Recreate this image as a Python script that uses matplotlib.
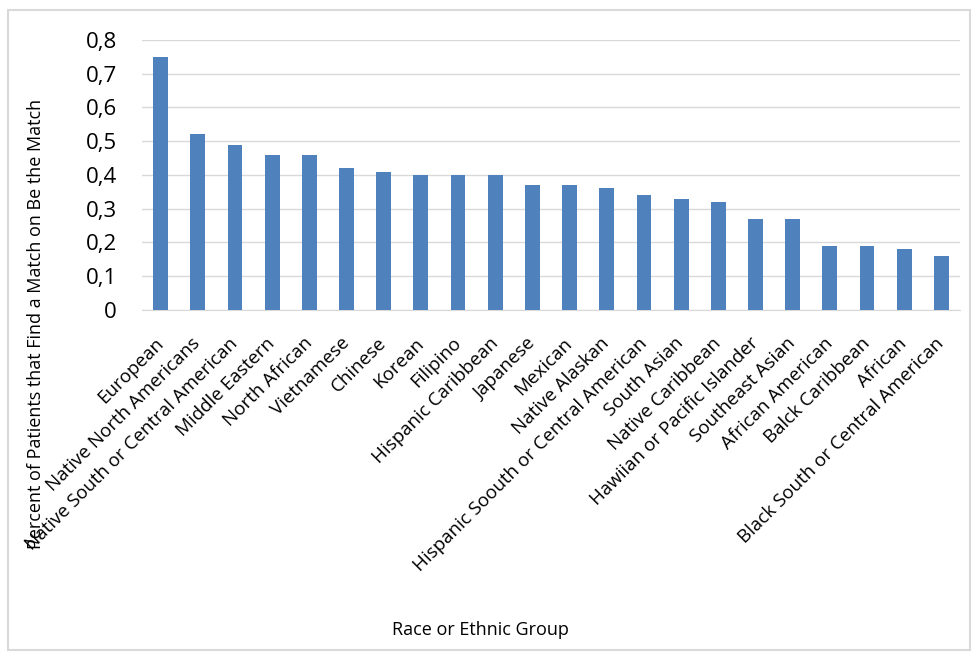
import matplotlib
matplotlib.use("Agg")
import matplotlib.pyplot as plt
from matplotlib.patches import Rectangle
from matplotlib.ticker import FuncFormatter

groups = ["European", "Native North Americans", "Native South or Central American",
          "Middle Eastern", "North African", "Vietnamese", "Chinese", "Korean",
          "Filipino", "Hispanic Caribbean", "Japanese", "Mexican", "Native Alaskan",
          "Hispanic Soouth or Central American", "South Asian", "Native Caribbean",
          "Hawiian or Pacific Islander", "Southeast Asian", "African American",
          "Balck Caribbean", "African", "Black South or Central American"]
match_rate = [0.75, 0.52, 0.49, 0.46, 0.46, 0.42, 0.41, 0.40, 0.40, 0.40, 0.37,
              0.37, 0.36, 0.34, 0.33, 0.32, 0.27, 0.27, 0.19, 0.19, 0.18, 0.16]

plt.rcParams['font.family'] = ['Open Sans', 'DejaVu Sans']

fig = plt.figure(figsize=(9.77, 6.53), dpi=100)
# outer chart border
fig.patches.append(Rectangle((8 / 977, 3 / 653), 962 / 977, 640 / 653,
                             transform=fig.transFigure, fill=False,
                             edgecolor='#D9D9D9', linewidth=1.5))

ax = fig.add_axes([142 / 977, 1 - 310 / 653, 818 / 977, 270 / 653])
x = range(len(groups))
ax.bar(x, match_rate, width=0.4, color='#4F81BD', zorder=3)

ax.set_ylim(0, 0.8)
ax.set_xlim(-0.5, len(groups) - 0.5)
ax.set_yticks([i / 10 for i in range(9)])
ax.yaxis.set_major_formatter(FuncFormatter(lambda v, p: ('%g' % round(v, 1)).replace('.', ',')))
ax.grid(axis='y', color='#D9D9D9', linewidth=1, zorder=0)
for s in ['top', 'right', 'left']:
    ax.spines[s].set_visible(False)
ax.spines['bottom'].set_color('#D9D9D9')
ax.tick_params(axis='both', length=0)
ax.tick_params(axis='y', labelsize=16, pad=18)

ax.set_xticks(list(x))
ax.set_xticklabels(groups, rotation=45, ha='right', va='center',
                   rotation_mode='anchor', fontsize=13.5)
ax.tick_params(axis='x', pad=22)

fig.text(36 / 977, 1 - 324 / 653, "Percent of Patients that Find a Match on Be the Match",
         rotation=90, ha='center', va='center', fontsize=13)
fig.text(480 / 977, 1 - 630 / 653, "Race or Ethnic Group",
         ha='center', va='center', fontsize=13)

fig.savefig("out.png", dpi=100)
